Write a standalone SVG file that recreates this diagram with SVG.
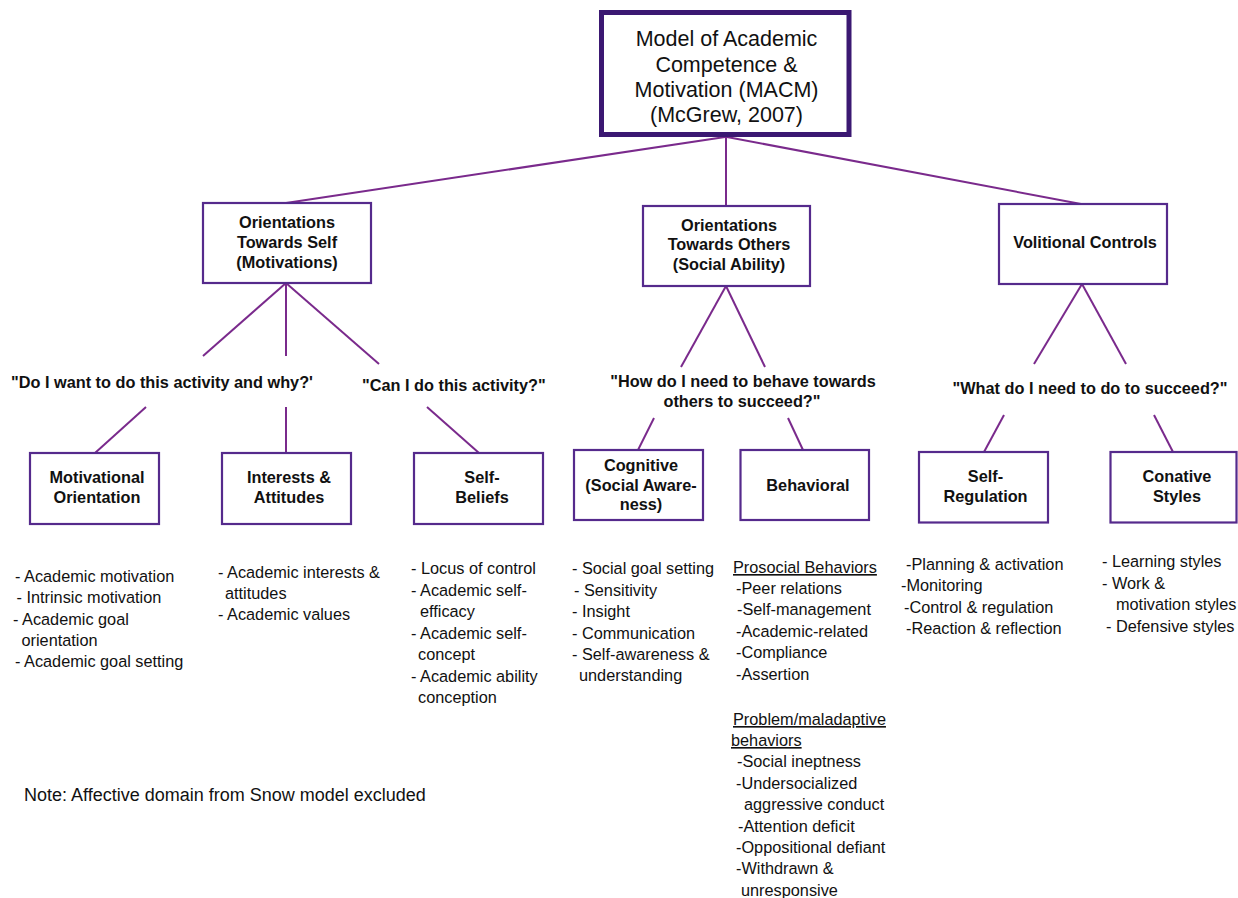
<svg xmlns="http://www.w3.org/2000/svg" width="1238" height="898" viewBox="0 0 1238 898">
<style>
.bg{fill:#ffffff}
.box{fill:#ffffff;stroke:#552a8c;stroke-width:2.2}
.top{fill:#ffffff;stroke:#3b1872;stroke-width:5}
.ln{stroke:#7a2a8c;stroke-width:2;fill:none}
text{font-family:"Liberation Sans",Arial,Helvetica,sans-serif;fill:#111}
.t{font-size:21.5px;text-anchor:middle}
.b{font-size:16.3px;font-weight:bold;text-anchor:middle}
.q{font-size:16.3px;font-weight:bold}
.r{font-size:16.3px}
.u{text-decoration:underline}
.n{font-size:18px}
</style>
<rect class="bg" x="0" y="0" width="1238" height="898"/>
<g id="connectors">
<line class="ln" x1="725" y1="137" x2="286" y2="203"/>
<line class="ln" x1="726" y1="137" x2="726" y2="206"/>
<line class="ln" x1="727" y1="137" x2="1081" y2="204"/>
<line class="ln" x1="286" y1="283" x2="203" y2="356"/>
<line class="ln" x1="286" y1="283" x2="286" y2="356"/>
<line class="ln" x1="286" y1="283" x2="379" y2="364"/>
<line class="ln" x1="146" y1="407" x2="95" y2="453"/>
<line class="ln" x1="286" y1="407" x2="286" y2="453"/>
<line class="ln" x1="427" y1="407" x2="479" y2="453"/>
<line class="ln" x1="726" y1="286" x2="681" y2="367"/>
<line class="ln" x1="726" y1="286" x2="765" y2="367"/>
<line class="ln" x1="654" y1="418" x2="638" y2="450"/>
<line class="ln" x1="788" y1="418" x2="803" y2="450"/>
<line class="ln" x1="1082" y1="284" x2="1034" y2="364"/>
<line class="ln" x1="1082" y1="284" x2="1126" y2="364"/>
<line class="ln" x1="1004" y1="415" x2="984" y2="452"/>
<line class="ln" x1="1154" y1="415" x2="1173" y2="452"/>
</g>
<g id="macm">
<rect class="top" x="601.5" y="12.5" width="247.5" height="122"/>
<text class="t" x="726.5" y="46">Model of Academic</text>
<text class="t" x="726.5" y="71.5">Competence &amp;</text>
<text class="t" x="726.5" y="96.5">Motivation (MACM)</text>
<text class="t" x="726.5" y="121.5">(McGrew, 2007)</text>
</g>
<g id="ots">
<rect class="box" x="203" y="203" width="168" height="80"/>
<text class="b" x="287" y="227.5">Orientations</text>
<text class="b" x="287" y="247.5">Towards Self</text>
<text class="b" x="287" y="267.5">(Motivations)</text>
</g>
<g id="oto">
<rect class="box" x="643" y="206" width="167" height="80"/>
<text class="b" x="729" y="230.5">Orientations</text>
<text class="b" x="729" y="250">Towards Others</text>
<text class="b" x="729" y="269.5">(Social Ability)</text>
</g>
<g id="vc">
<rect class="box" x="999" y="204" width="168" height="80"/>
<text class="b" x="1085" y="248">Volitional Controls</text>
</g>
<g id="q1"><text class="q" x="11" y="388">"Do I want to do this activity and why?'</text></g>
<g id="q2"><text class="q" x="362" y="391">"Can I do this activity?"</text></g>
<g id="q3">
<text class="q" x="743" y="387" text-anchor="middle">"How do I need to behave towards</text>
<text class="q" x="742" y="406.5" text-anchor="middle">others to succeed?"</text>
</g>
<g id="q4"><text class="q" x="1090" y="394" text-anchor="middle">"What do I need to do to succeed?"</text></g>
<g id="motivational">
<rect class="box" x="30" y="453" width="129" height="71"/>
<text class="b" x="97" y="483">Motivational</text>
<text class="b" x="97" y="503">Orientation</text>
</g>
<g id="interests">
<rect class="box" x="222" y="453" width="129" height="71"/>
<text class="b" x="289" y="483">Interests &amp;</text>
<text class="b" x="289" y="503">Attitudes</text>
</g>
<g id="selfbeliefs">
<rect class="box" x="414" y="453" width="129" height="71"/>
<text class="b" x="482" y="483">Self-</text>
<text class="b" x="482" y="503">Beliefs</text>
</g>
<g id="cognitive">
<rect class="box" x="574" y="450" width="129" height="70"/>
<text class="b" x="641" y="471">Cognitive</text>
<text class="b" x="641" y="490.5">(Social Aware-</text>
<text class="b" x="641" y="510">ness)</text>
</g>
<g id="behavioral">
<rect class="box" x="740.5" y="450" width="128.5" height="70"/>
<text class="b" x="808" y="490.5">Behavioral</text>
</g>
<g id="selfregulation">
<rect class="box" x="919" y="452" width="129" height="70.5"/>
<text class="b" x="985.5" y="482">Self-</text>
<text class="b" x="985.5" y="502">Regulation</text>
</g>
<g id="conative">
<rect class="box" x="1110.5" y="452" width="126" height="70.5"/>
<text class="b" x="1177" y="482">Conative</text>
<text class="b" x="1177" y="502">Styles</text>
</g>
<g id="list-motivational">
<text class="r" x="15" y="582">- Academic motivation</text>
<text class="r" x="16.5" y="603">- Intrinsic motivation</text>
<text class="r" x="13" y="625">- Academic goal</text>
<text class="r" x="21.5" y="646">orientation</text>
<text class="r" x="15" y="667">- Academic goal setting</text>
</g>
<g id="list-interests">
<text class="r" x="218" y="578">- Academic interests &amp;</text>
<text class="r" x="225" y="599">attitudes</text>
<text class="r" x="218" y="620">- Academic values</text>
</g>
<g id="list-selfbeliefs">
<text class="r" x="411" y="574">- Locus of control</text>
<text class="r" x="411" y="596">- Academic self-</text>
<text class="r" x="420" y="617">efficacy</text>
<text class="r" x="411" y="639">- Academic self-</text>
<text class="r" x="418" y="660">concept</text>
<text class="r" x="411" y="682">- Academic ability</text>
<text class="r" x="418" y="703">conception</text>
</g>
<g id="list-cognitive">
<text class="r" x="572" y="574">- Social goal setting</text>
<text class="r" x="574" y="596">- Sensitivity</text>
<text class="r" x="572" y="617">- Insight</text>
<text class="r" x="572" y="638.5">- Communication</text>
<text class="r" x="572" y="660">- Self-awareness &amp;</text>
<text class="r" x="579" y="681">understanding</text>
</g>
<g id="list-behavioral">
<text class="r u" x="733" y="573">Prosocial Behaviors</text>
<text class="r" x="736" y="594">-Peer relations</text>
<text class="r" x="737" y="615">-Self-management</text>
<text class="r" x="736" y="637">-Academic-related</text>
<text class="r" x="736" y="658">-Compliance</text>
<text class="r" x="736" y="680">-Assertion</text>
<text class="r u" x="733" y="725">Problem/maladaptive</text>
<text class="r u" x="731" y="746">behaviors</text>
<text class="r" x="737" y="767">-Social ineptness</text>
<text class="r" x="736" y="789">-Undersocialized</text>
<text class="r" x="744" y="810">aggressive conduct</text>
<text class="r" x="738" y="832">-Attention deficit</text>
<text class="r" x="736" y="853">-Oppositional defiant</text>
<text class="r" x="736" y="874">-Withdrawn &amp;</text>
<text class="r" x="741" y="896">unresponsive</text>
</g>
<g id="list-selfregulation">
<text class="r" x="906" y="570">-Planning &amp; activation</text>
<text class="r" x="901" y="591">-Monitoring</text>
<text class="r" x="904" y="613">-Control &amp; regulation</text>
<text class="r" x="906" y="634">-Reaction &amp; reflection</text>
</g>
<g id="list-conative">
<text class="r" x="1102" y="567">- Learning styles</text>
<text class="r" x="1102" y="588.5">- Work &amp;</text>
<text class="r" x="1116" y="610">motivation styles</text>
<text class="r" x="1106" y="631.5">- Defensive styles</text>
</g>
<g id="note">
<text class="n" x="24" y="801">Note: Affective domain from Snow model excluded</text>
</g>
</svg>
